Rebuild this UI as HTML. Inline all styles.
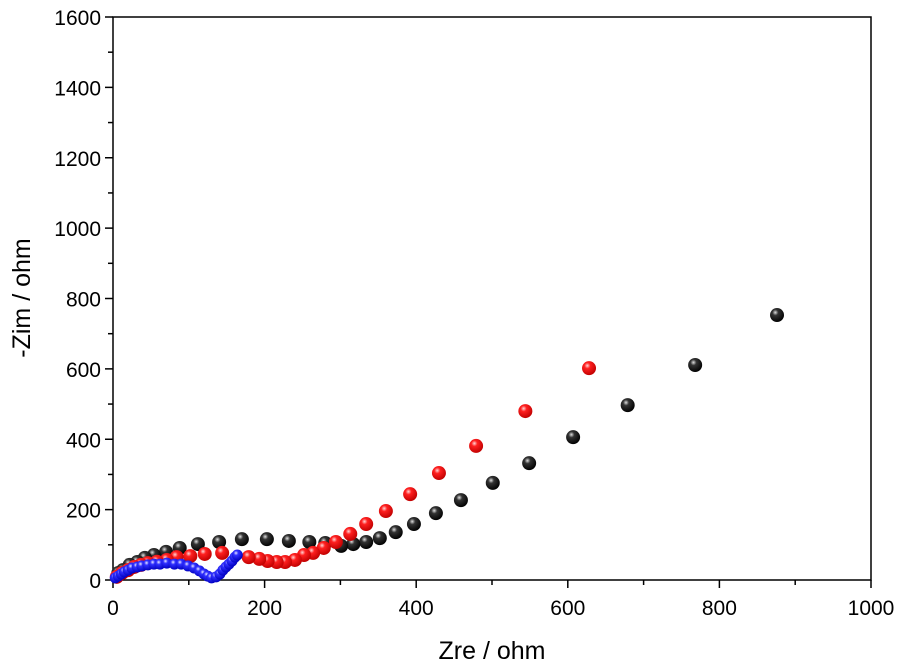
<!DOCTYPE html>
<html><head><meta charset="utf-8"><style>
html,body{margin:0;padding:0;background:#fff;}
svg{display:block;font-family:"Liberation Sans",Arial,sans-serif;}
</style></head><body>
<svg id="chart" width="900" height="667" viewBox="0 0 900 667" xmlns="http://www.w3.org/2000/svg">
<defs>
<radialGradient id="gBlack" cx="0.38" cy="0.32" r="0.7"><stop offset="0" stop-color="#e0e0e0"/><stop offset="0.3" stop-color="#333"/><stop offset="1" stop-color="#000"/></radialGradient>
<radialGradient id="gRed" cx="0.38" cy="0.32" r="0.7"><stop offset="0" stop-color="#ffd8d8"/><stop offset="0.3" stop-color="#ff2020"/><stop offset="1" stop-color="#c00000"/></radialGradient>
<radialGradient id="gBlue" cx="0.38" cy="0.32" r="0.7"><stop offset="0" stop-color="#e8e8ff"/><stop offset="0.3" stop-color="#3030ff"/><stop offset="1" stop-color="#0000c0"/></radialGradient>
</defs>
<g id="axes"></g>
<g id="marks"></g>
<text x="492" y="659" font-size="25" text-anchor="middle">Zre / ohm</text>
<text transform="translate(30,298) rotate(-90)" font-size="25" text-anchor="middle">-Zim / ohm</text>
</svg>
<script>
const xTicks=[0,200,400,600,800,1000];
const yTicks=[0,200,400,600,800,1000,1200,1400,1600];
const blackX=[876,768,679,607,549,501,459,426,397,373,352,334,317,301,280,259,232,203,170,140,112,88,70,54,42,32,22,13,7];
const blackY=[753,611,497,406,332,276,227,190,159,136,119,108,102,97,105,108,111,116,116,108,102,91,80,71,63,51,43,28,20];
const redX=[628,544,479,430,392,360,334,313,294,278,264,252,240,227,216,204,193,179,144,121,102,84,71,58,46,37,28,20,12,5];
const redY=[602,480,381,304,244,196,159,131,108,91,77,71,57,51,51,54,60,65,77,74,68,65,57,52,48,43,37,28,20,9];
const blueX=[3,7,11,15,20,25,32,38,46,54,62,71,81,90,99,107,114,120,125,130,136,141,145,149,153,157,161,164];
const blueY=[6,11,17,23,28,34,37,40,43,45,45,48,45,45,40,34,26,17,11,6,9,17,28,37,45,54,65,71];
const L=113,R=871,T=17,B=580;
const sx=v=>L+(v/1000)*(R-L);
const sy=v=>B-(v/1600)*(B-T);
const NS="http://www.w3.org/2000/svg";
const axes=document.getElementById('axes'),marks=document.getElementById('marks');
function mk(tag,attrs,parent){const e=document.createElementNS(NS,tag);for(const k in attrs)e.setAttribute(k,attrs[k]);parent.appendChild(e);return e;}
const frame=mk('rect',{x:L,y:T,width:R-L,height:B-T,fill:'none',stroke:'#000','stroke-width':1.5},axes);


for(let v=0;v<=1000;v+=100){const t=mk('line',{x1:sx(v),x2:sx(v),y1:B,y2:B+(v%200===0?8:5),stroke:'#000','stroke-width':1.5},axes);

}
for(let v=0;v<=1600;v+=100){const t=mk('line',{x1:L,x2:L-(v%200===0?8:5),y1:sy(v),y2:sy(v),stroke:'#000','stroke-width':1.5},axes);

}
xTicks.forEach(v=>{const t=mk('text',{x:sx(v),y:B+35,'font-size':21,'text-anchor':'middle'},axes);t.textContent=v;

});
yTicks.forEach(v=>{const t=mk('text',{x:L-12,y:sy(v)+8,'font-size':21,'text-anchor':'end'},axes);t.textContent=v;

});
function series(xs,ys,fill,r,name){const g=mk('g',{},marks);


xs.forEach((x,i)=>{const c=mk('circle',{cx:sx(x),cy:sy(ys[i]),r:r,fill:fill},g);

});}
series(blackX,blackY,'url(#gBlack)',7,'black-series');
series(redX,redY,'url(#gRed)',7,'red-series');
series(blueX,blueY,'url(#gBlue)',5.5,'blue-series');
</script>
</body></html>
